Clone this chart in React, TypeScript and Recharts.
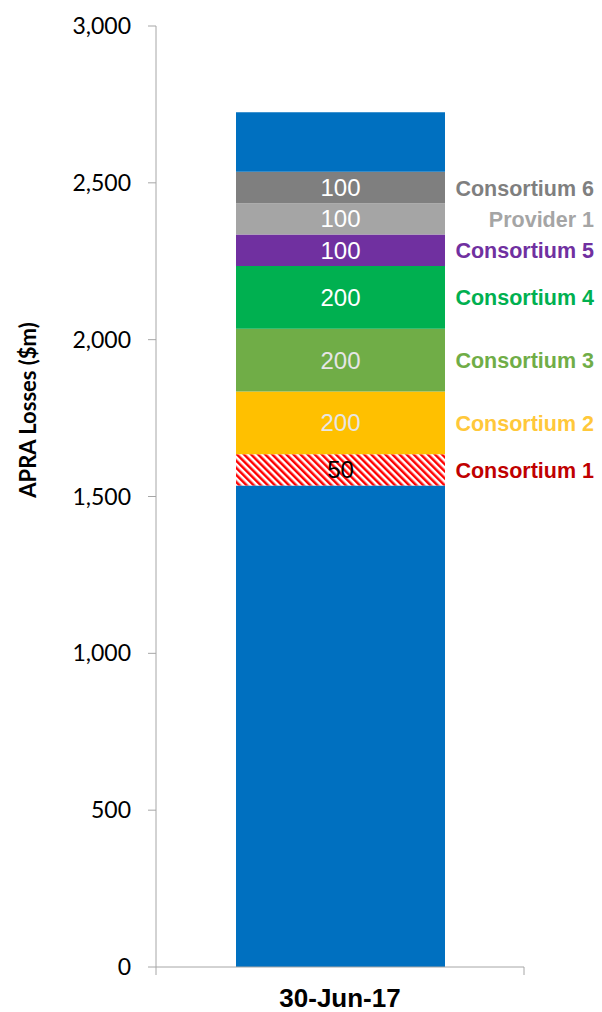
import { BarChart, Bar, XAxis, YAxis, LabelList } from 'recharts';

const categories = ['30-Jun-17'];
const seriesNames = [
  'Base',
  'Consortium 1',
  'Consortium 2',
  'Consortium 3',
  'Consortium 4',
  'Consortium 5',
  'Provider 1',
  'Consortium 6',
  'Top',
];
const seriesValues = [1535, 100, 200, 200, 200, 100, 100, 100, 190];
const segmentLabels = ['', '50', '200', '200', '200', '100', '100', '100', ''];
const sideLabels = ['', 'Consortium 1', 'Consortium 2', 'Consortium 3', 'Consortium 4', 'Consortium 5', 'Provider 1', 'Consortium 6', ''];
const yTicks = [0, 500, 1000, 1500, 2000, 2500, 3000];

// fill, text colour inside the segment, colour of the name on the right
const STYLES = [
  { fill: '#0070C0', text: '#ffffff', side: '#000000' },
  { fill: 'url(#hatch)', text: '#000000', side: '#C00000' },
  { fill: '#FFC000', text: '#E6E6E6', side: '#FFC83A' },
  { fill: '#70AD47', text: '#E6E6E6', side: '#70AD47' },
  { fill: '#00B050', text: '#ffffff', side: '#00B050' },
  { fill: '#7030A0', text: '#ffffff', side: '#7030A0' },
  { fill: '#A5A5A5', text: '#ffffff', side: '#A5A5A5' },
  { fill: '#7F7F7F', text: '#ffffff', side: '#7F7F7F' },
  { fill: '#0070C0', text: '#ffffff', side: '#000000' },
];

const keys = seriesNames.map((_, i) => `s${i}`);
const data = categories.map((c) => {
  const row: Record<string, string | number> = { date: c };
  keys.forEach((k, i) => {
    row[k] = seriesValues[i];
  });
  return row;
});

const AXIS = '#A6A6A6';
const ARIAL = '"Liberation Sans", Arial, sans-serif';

const makeLabel = (i: number) => (props: any) => {
  const vb = props.viewBox ?? props;
  const x = Number(vb.x ?? props.x);
  const y = Number(vb.y ?? props.y);
  const w = Number(vb.width ?? props.width);
  const h = Number(vb.height ?? props.height);
  const cy = y + h / 2;
  return (
    <g>
      {segmentLabels[i] && (
        <text
          x={x + w / 2}
          y={cy}
          textAnchor="middle"
          dominantBaseline="central"
          fontFamily={ARIAL}
          fontSize={24}
          fill={STYLES[i].text}
        >
          {segmentLabels[i]}
        </text>
      )}
      {sideLabels[i] && (
        <text
          x={x + w + 149}
          y={cy + 1}
          textAnchor="end"
          dominantBaseline="central"
          fontFamily={ARIAL}
          fontSize={21.5}
          fontWeight="bold"
          fill={STYLES[i].side}
        >
          {sideLabels[i]}
        </text>
      )}
    </g>
  );
};

const DateTick = (props: any) => {
  const { x, y, payload } = props;
  const half = typeof payload?.offset === 'number' ? payload.offset : 184;
  return (
    <g>
      <line x1={x - half} x2={x - half} y1={y - 8} y2={y} stroke={AXIS} />
      <line x1={x + half} x2={x + half} y1={y - 8} y2={y} stroke={AXIS} />
      <text
        x={x}
        y={y + 32}
        textAnchor="middle"
        fontFamily={ARIAL}
        fontSize={26}
        fontWeight="bold"
        fill="#000"
      >
        {payload.value}
      </text>
    </g>
  );
};

const YTitle = () => (
  <text
    x={27}
    y={410}
    transform="rotate(-90 27 410)"
    textAnchor="middle"
    dominantBaseline="central"
    fontFamily="Lato, sans-serif"
    fontSize={22}
    fontWeight="bold"
    fill="#000"
  >
    APRA Losses ($m)
  </text>
);

export default function App() {
  return (
    <div style={{ position: 'absolute', left: 0, top: 0, background: '#fff' }}>
      <BarChart
        width={602}
        height={1012}
        data={data}
        margin={{ top: 26, right: 78, left: 0, bottom: 0 }}
      >
        <defs>
          <pattern
            id="hatch"
            patternUnits="userSpaceOnUse"
            width={5}
            height={5}
            patternTransform="rotate(-45)"
          >
            <rect width={5} height={5} fill="#ffffff" />
            <rect width={2.5} height={5} fill="#FF0000" />
          </pattern>
        </defs>
        <XAxis
          dataKey="date"
          height={45}
          axisLine={{ stroke: AXIS }}
          tickLine={false}
          tickSize={8}
          tickMargin={0}
          tick={<DateTick />}
        />
        <YAxis
          width={156}
          domain={[0, 3000]}
          ticks={yTicks}
          interval={0}
          axisLine={{ stroke: AXIS }}
          tickLine={{ stroke: AXIS }}
          tickSize={8}
          tickMargin={17}
          tickFormatter={(v) => Number(v).toLocaleString('en-US')}
          tick={{ fontFamily: 'Lato, sans-serif', fontSize: 23, fill: '#000' }}
          label={{ content: <YTitle /> }}
        />
        {keys.map((k, i) => (
          <Bar
            key={k}
            dataKey={k}
            name={seriesNames[i]}
            stackId="a"
            fill={STYLES[i].fill}
            barSize={209}
            isAnimationActive={false}
          >
            <LabelList dataKey={k} content={makeLabel(i)} />
          </Bar>
        ))}
      </BarChart>
    </div>
  );
}
